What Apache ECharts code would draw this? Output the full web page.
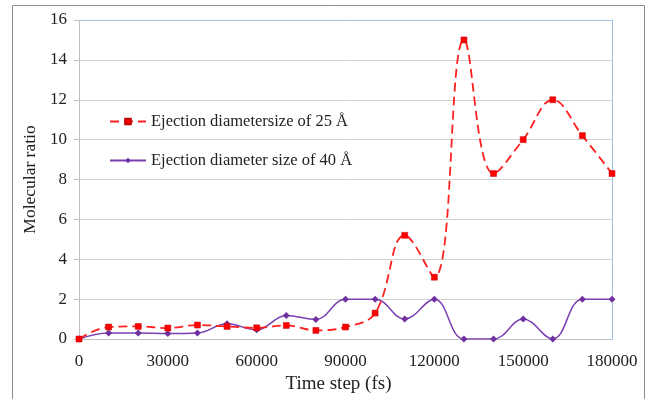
<!DOCTYPE html>
<html>
<head>
<meta charset="utf-8">
<script src="https://cdn.jsdelivr.net/npm/echarts@6/dist/echarts.min.js"></script>
<style>
html, body { margin: 0; padding: 0; background: #fff; }
#chart { width: 649px; height: 399px; }
</style>
</head>
<body>
<div id="chart"></div>
<script>
// time steps (fs)
var steps = [0, 10000, 20000, 30000, 40000, 50000, 60000, 70000, 80000, 90000,
  100000, 110000, 120000, 130000, 140000, 150000, 160000, 170000, 180000]
var d25 = [0, 0.6, 0.63, 0.55, 0.7, 0.63, 0.56, 0.68, 0.43, 0.6,
  1.3, 5.2, 3.1, 15, 8.3, 10, 12, 10.2, 8.3]
var d40 = [0, 0.3, 0.3, 0.27, 0.3, 0.76, 0.46, 1.18, 0.98, 2,
  2, 1, 2, 0, 0, 1, 0, 2, 2]
var name25 = 'Ejection diametersize of 25 Å'
var name40 = 'Ejection diameter size of 40 Å'

function pairs (ys) {
  return steps.map(function (x, i) { return [x, ys[i]] })
}

var font = 'Liberation Serif'
var chart = echarts.init(document.getElementById('chart'))
chart.setOption({
  animation: false,
  textStyle: { fontFamily: font },
  graphic: [{
    type: 'rect',
    shape: { x: 12.5, y: 5.5, width: 632, height: 400 },
    style: { fill: 'none', stroke: '#8c8c8c', lineWidth: 1 },
    silent: true
  }],
  legend: {
    orient: 'vertical',
    left: 104,
    top: 108,
    itemGap: 22,
    itemWidth: 36,
    itemHeight: 7,
    textStyle: { fontFamily: font, fontSize: 16.5, color: '#222' },
    data: [name25, name40]
  },
  grid: { left: 79, right: 37, top: 20, bottom: 57 },
  xAxis: [{
    type: 'value',
    min: 0, max: 180000, interval: 30000,
    name: 'Time step (fs)',
    nameLocation: 'middle',
    nameGap: 36,
    nameTextStyle: { fontFamily: font, fontSize: 19, color: '#222', padding: [0, 14, 0, 0] },
    axisLine: { lineStyle: { color: '#bfbfbf' } },
    axisTick: { show: false },
    axisLabel: {
      fontFamily: font, fontSize: 17, color: '#222', margin: 14,
      formatter: function (v) { return String(v) }
    },
    splitLine: { show: false }
  }, {
    type: 'value', position: 'top',
    min: 0, max: 180000,
    axisLine: { show: true, onZero: false, lineStyle: { color: '#9dc3e6' } },
    axisTick: { show: false }, axisLabel: { show: false }, splitLine: { show: false }
  }],
  yAxis: [{
    type: 'value',
    min: 0, max: 16, interval: 2,
    name: 'Molecular ratio',
    nameLocation: 'middle',
    nameGap: 40,
    nameTextStyle: { fontFamily: font, fontSize: 17.5, color: '#222' },
    axisLine: { show: true, onZero: false, lineStyle: { color: '#bfbfbf' } },
    axisTick: { show: true, length: 5, lineStyle: { color: '#bfbfbf' } },
    axisLabel: { fontFamily: font, fontSize: 17, color: '#222', margin: 12 },
    splitLine: {
      lineStyle: {
        color: ['#d0d0d0', '#d0d0d0', '#d0d0d0', '#d0d0d0', '#d0d0d0',
          '#d0d0d0', '#d0d0d0', '#d0d0d0', 'rgba(0,0,0,0)']
      }
    }
  }, {
    type: 'value', position: 'right',
    min: 0, max: 16,
    axisLine: { show: true, onZero: false, lineStyle: { color: '#9dc3e6' } },
    axisTick: { show: false }, axisLabel: { show: false }, splitLine: { show: false }
  }],
  series: [{
    name: name25,
    type: 'line',
    smooth: 0.4,
    data: pairs(d25),
    symbol: 'rect',
    symbolSize: 6,
    itemStyle: { color: '#ff0000', borderColor: '#c00000', borderWidth: 0.5 },
    lineStyle: { color: '#ff2020', width: 1.8, type: [9, 5] },
    z: 3
  }, {
    name: name40,
    type: 'line',
    smooth: 0.4,
    data: pairs(d40),
    symbol: 'diamond',
    symbolSize: 7,
    itemStyle: { color: '#7030a0' },
    lineStyle: { color: '#7a3fb0', width: 1.5 },
    z: 2
  }]
})
</script>
</body>
</html>
